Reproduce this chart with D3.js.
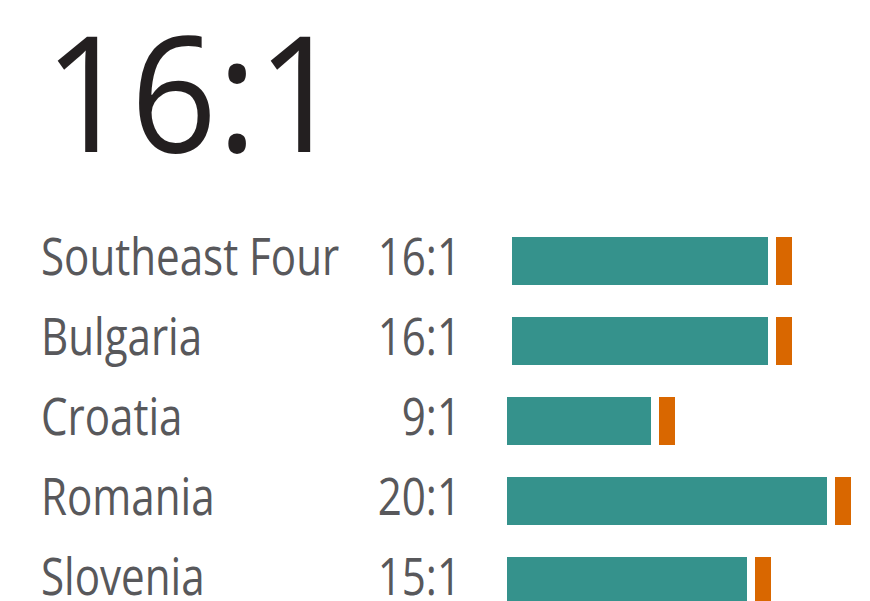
<!DOCTYPE html>
<html>
<head>
<meta charset="utf-8">
<script src="https://cdn.jsdelivr.net/npm/d3@7"></script>
<style>
  body { margin: 0; background: #fff; }
  text { font-family: "Open Sans", "Noto Sans", sans-serif; }
</style>
</head>
<body>
<script>
const headline = "16:1";
const countries = ["Southeast Four", "Bulgaria", "Croatia", "Romania", "Slovenia"];
const ratios = [16, 16, 9, 20, 15];
const ratioLabels = ["16:1", "16:1", "9:1", "20:1", "15:1"];
const unit = 1;

const width = 870, height = 601;
const rowShift = [5, 5, 0, 0, 0]; // first two bars sit a little further right in the original
const squeeze = 0.81;

const svg = d3.select("body").append("svg")
    .attr("width", width)
    .attr("height", height);

const x = d3.scaleLinear().domain([0, 21]).range([0, 336]);
const y = d3.scaleBand().domain(countries).range([237, 605]).paddingInner(0.4).paddingOuter(0);

// big number
svg.append("g")
    .attr("transform", "translate(44,152) scale(0.935,1)")
    .append("text")
    .attr("font-size", 162)
    .attr("font-weight", 400)
    .attr("fill", "#231f20")
    .text(headline);

const rows = svg.selectAll(".row")
    .data(countries)
    .join("g")
    .attr("class", "row");

rows.append("g")
    .attr("transform", d => "translate(41," + (y(d) + 38) + ") scale(" + squeeze + ",1)")
    .append("text")
    .attr("font-size", 52)
    .attr("fill", "#58585b")
    .text(d => d);

rows.append("g")
    .attr("transform", d => "translate(461," + (y(d) + 38) + ") scale(" + squeeze + ",1)")
    .append("text")
    .attr("font-size", 52)
    .attr("fill", "#58585b")
    .attr("text-anchor", "end")
    .text((d, i) => ratioLabels[i]);

rows.append("rect")
    .attr("x", (d, i) => 507 + rowShift[i])
    .attr("y", d => y(d))
    .attr("width", (d, i) => x(ratios[i]))
    .attr("height", y.bandwidth())
    .attr("fill", "#35928c");

rows.append("rect")
    .attr("x", (d, i) => 507 + rowShift[i] + x(ratios[i]) + 8)
    .attr("y", d => y(d))
    .attr("width", x(unit))
    .attr("height", y.bandwidth())
    .attr("fill", "#d96700");
</script>
</body>
</html>
